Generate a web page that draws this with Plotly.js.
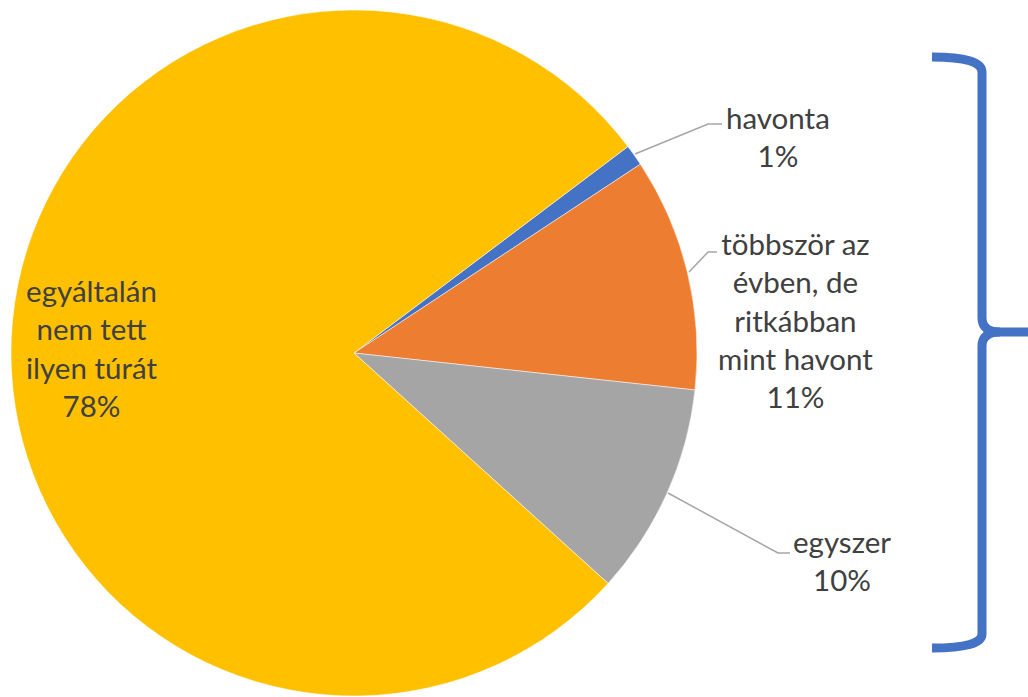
<!DOCTYPE html>
<html>
<head>
<meta charset="utf-8">
<script src="https://cdn.plot.ly/plotly-3.0.1.min.js"></script>
<style>html,body{margin:0;padding:0;background:#fff;}#chart{width:1028px;height:697px;}</style>
</head>
<body>
<div id="chart"></div>
<script>
// Data
var categories = ["havonta", "többször az évben, de ritkábban mint havont", "egyszer", "egyáltalán nem tett ilyen túrát"];
var labelLines = ["havonta", "többször az<br>évben, de<br>ritkábban<br>mint havont", "egyszer", "egyáltalán<br>nem tett<br>ilyen túrát"];
var values = [1, 11, 10, 78];
var colors = ["#4472C4", "#ED7D31", "#A5A5A5", "#FFC000"];

var W = 1028, H = 697;
function px(x){ return x / W; }
function py(y){ return 1 - y / H; }
function P(pts){
  return pts.map(function(p){
    var c = p[0];
    if (c === 'M' || c === 'L') return c + ' ' + px(p[1]) + ',' + py(p[2]);
    if (c === 'Q') return 'Q ' + px(p[1]) + ',' + py(p[2]) + ' ' + px(p[3]) + ',' + py(p[4]);
    return c;
  }).join(' ');
}

var total = values.reduce(function(a, b){ return a + b; }, 0);
function pct(v){ return Math.round(v / total * 100) + '%'; }

var trace = {
  type: 'pie',
  labels: categories,
  values: values,
  sort: false,
  direction: 'clockwise',
  rotation: 53,
  marker: { colors: colors, line: { color: '#ffffff', width: 0.5 } },
  textinfo: 'none',
  hoverinfo: 'label+percent',
  showlegend: false,
  domain: { x: [px(11), px(697)], y: [py(696), py(10)] }
};

var fontSpec = { family: 'Lato, "Open Sans", sans-serif', size: 29.5, color: '#404040' };

// label anchor positions (pixel centers)
var labelPos = [[778, 137], [795, 320], [842, 560], [91, 348]];

var annotations = labelLines.map(function(t, i){
  return {
    text: t + '<br>' + pct(values[i]),
    xref: 'paper', yref: 'paper',
    x: px(labelPos[i][0]), y: py(labelPos[i][1]),
    xanchor: 'center', yanchor: 'middle',
    showarrow: false, align: 'center',
    font: fontSpec
  };
});

var leader = { color: '#A6A6A6', width: 1.5 };
var brace = { color: '#4472C4', width: 9 };

var shapes = [
  { type: 'path', xref: 'paper', yref: 'paper', line: leader,
    path: P([['M', 635, 154], ['L', 708, 124], ['L', 722, 124]]) },
  { type: 'path', xref: 'paper', yref: 'paper', line: leader,
    path: P([['M', 689, 272], ['L', 708, 252], ['L', 717, 252]]) },
  { type: 'path', xref: 'paper', yref: 'paper', line: leader,
    path: P([['M', 668, 493], ['L', 778, 553], ['L', 790, 553]]) },
  // brace
  { type: 'path', xref: 'paper', yref: 'paper', line: brace,
    path: P([['M', 932, 57], ['Q', 982, 57, 982, 72], ['L', 982, 318], ['Q', 982, 332, 1000, 332], ['L', 1030, 332]]) },
  { type: 'path', xref: 'paper', yref: 'paper', line: brace,
    path: P([['M', 1000, 332], ['Q', 982, 332, 982, 346], ['L', 982, 634], ['Q', 982, 648, 932, 648]]) }
];

var layout = {
  width: W, height: H,
  margin: { l: 0, r: 0, t: 0, b: 0, pad: 0 },
  paper_bgcolor: '#ffffff',
  plot_bgcolor: '#ffffff',
  showlegend: false,
  annotations: annotations,
  shapes: shapes
};

Plotly.newPlot('chart', [trace], layout, { displayModeBar: false, staticPlot: true });
</script>
</body>
</html>
